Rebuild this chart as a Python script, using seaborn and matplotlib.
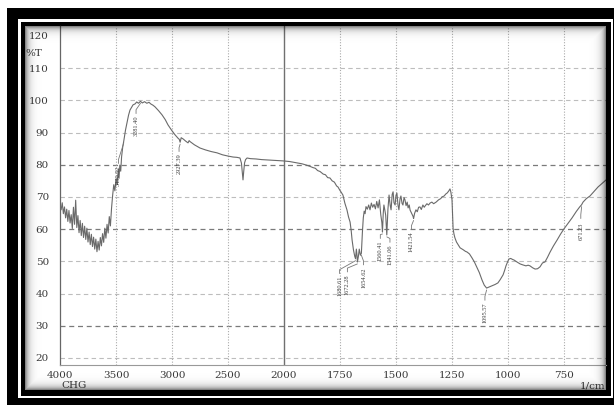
import numpy as np
import pandas as pd
import matplotlib
matplotlib.use("Agg")
import matplotlib.pyplot as plt
import seaborn as sns
from matplotlib.patches import Rectangle

# ---- spectrum (wavenumber in 1/cm, transmittance in %T) ----
wavenumber = [
    4000, 3990, 3980, 3970, 3960, 3950, 3940, 3930, 3920, 3910,
    3900, 3890, 3880, 3870, 3860, 3850, 3840, 3830, 3820, 3810,
    3800, 3790, 3780, 3770, 3760, 3750, 3740, 3730, 3720, 3710,
    3700, 3690, 3680, 3670, 3660, 3650, 3640, 3630, 3620, 3610,
    3600, 3590, 3580, 3570, 3560, 3550, 3540, 3530, 3520, 3510,
    3500, 3490, 3480, 3473, 3466, 3458, 3450, 3440, 3430.52, 3415,
    3402, 3388, 3375, 3360, 3348, 3330, 3315, 3300, 3281.40, 3265,
    3245, 3225, 3205, 3190, 3170, 3152, 3120, 3089, 3060, 3036,
    3005, 2973, 2945, 2935, 2927.39, 2918, 2900, 2880, 2857, 2847,
    2839, 2800, 2750, 2700, 2650, 2598, 2550, 2500, 2455, 2420,
    2393, 2380, 2372, 2366, 2360, 2352, 2343, 2330, 2300, 2250,
    2200, 2152, 2100, 2050, 2009, 1975, 1942, 1920, 1900, 1884,
    1870, 1860, 1850, 1839, 1825, 1815, 1805, 1795, 1785, 1775,
    1765, 1759, 1750, 1745, 1737, 1728, 1719, 1712, 1705, 1700,
    1696, 1690, 1684, 1680.61, 1677, 1674, 1672.28, 1668, 1664, 1659,
    1654.62, 1650, 1646, 1642, 1638, 1634, 1628, 1622, 1616, 1610,
    1604, 1598, 1592, 1586, 1580, 1574, 1568, 1563, 1560.41, 1557,
    1554, 1550, 1546, 1541.06, 1536, 1531, 1526, 1522, 1517, 1513,
    1509, 1504, 1500, 1496, 1491, 1487, 1482, 1478, 1473, 1469,
    1464, 1460, 1455, 1450, 1446, 1441, 1437, 1433, 1428, 1424,
    1421.54, 1417, 1411, 1405, 1399, 1393, 1387, 1380, 1374, 1370,
    1362, 1355, 1348, 1340, 1332, 1321, 1310, 1300, 1295, 1285,
    1278, 1272, 1265, 1259, 1255, 1250, 1247, 1245, 1241, 1237,
    1230, 1222, 1214, 1200, 1190, 1183, 1172, 1161, 1150, 1138,
    1128, 1116, 1106, 1095.57, 1085, 1071, 1058, 1045, 1035, 1022,
    1015, 1009, 1002, 996, 988, 980, 973, 960, 946, 934,
    920, 910, 902, 890, 879, 868, 857, 846, 835, 824,
    812, 797, 781, 765, 750, 732, 714, 695, 680, 671.23,
    665, 650, 634, 615, 598, 580, 562,
]
transmittance = [
    67.5, 66.0, 68.2, 64.8, 66.9, 63.5, 66.2, 62.4, 65.8, 61.9,
    64.5, 60.2, 66.8, 61.5, 69.0, 60.5, 64.2, 58.9, 62.7, 58.0,
    61.8, 57.4, 60.9, 56.8, 60.3, 56.0, 59.1, 55.2, 58.4, 54.6,
    57.5, 53.8, 56.9, 53.0, 56.2, 53.5, 57.4, 54.8, 58.6, 55.9,
    60.3, 57.2, 61.5, 58.8, 63.9, 61.0, 66.4, 70.5, 73.8, 71.9,
    75.6, 73.9, 78.5, 75.8, 79.9, 78.0, 82.5, 85.5, 87.4, 90.8,
    93.0, 95.4, 97.0, 97.9, 98.6, 98.9, 99.5, 99.1, 99.7, 99.2,
    99.6, 99.1, 99.4, 98.9, 98.5, 98.0, 96.8, 95.5, 94.0, 92.4,
    90.8, 89.3, 88.2, 87.9, 87.0, 88.4, 88.0, 87.4, 86.8, 87.5,
    87.2, 86.2, 85.2, 84.6, 84.1, 83.7, 83.1, 82.7, 82.4, 82.3,
    82.1, 80.5, 77.5, 75.3, 77.8, 80.6, 81.6, 82.1, 81.9, 81.8,
    81.6, 81.5, 81.4, 81.3, 81.2, 81.0, 80.6, 80.3, 79.9, 79.5,
    79.1, 78.9, 78.2, 77.9, 77.1, 76.9, 76.0, 75.9, 75.0, 74.6,
    73.4, 73.1, 72.0, 71.5, 70.6, 68.0, 66.0, 63.8, 62.2, 59.5,
    56.6, 53.6, 51.5, 50.8, 53.8, 51.8, 49.8, 51.5, 53.8, 51.9,
    52.5, 59.0, 63.5, 65.6, 64.8, 67.0, 66.2, 67.5, 66.0, 68.1,
    66.8, 67.7, 66.3, 68.6, 66.6, 69.1, 64.5, 62.0, 59.1, 64.8,
    67.5, 66.0, 64.3, 58.2, 66.2, 70.6, 67.4, 66.0, 70.8, 71.6,
    68.2, 67.5, 70.5, 71.2, 67.4, 66.0, 69.4, 70.3, 68.0, 67.5,
    69.8, 69.1, 67.3, 68.4, 66.6, 67.5, 65.9, 65.3, 64.6, 64.0,
    63.3, 64.9, 66.0, 65.4, 66.8, 66.9, 66.1, 67.5, 66.8, 67.2,
    67.9, 67.5, 68.1, 68.4, 67.9, 68.4, 69.1, 69.5, 70.0, 70.3,
    70.9, 71.2, 71.8, 72.5, 71.5, 69.1, 64.0, 60.1, 58.4, 57.3,
    56.0, 55.1, 54.2, 53.6, 53.1, 52.9, 52.3, 51.1, 49.8, 48.0,
    46.5, 44.2, 42.6, 41.7, 42.0, 42.4, 42.8, 43.3, 44.3, 45.8,
    47.2, 48.6, 49.8, 50.7, 50.9, 50.6, 50.4, 49.8, 49.2, 48.9,
    48.6, 48.8, 48.6, 48.0, 47.6, 47.7, 48.3, 49.5, 49.8, 51.2,
    52.9, 54.8, 56.6, 58.5, 60.1, 61.8, 63.5, 65.5, 66.9, 67.6,
    68.4, 69.5, 70.3, 71.8, 73.1, 74.2, 75.3,
]

# ---- peak annotations ----
peak_labels = ["3430.52", "3281.40", "2927.39", "1680.61", "1672.28",
               "1654.62", "1560.41", "1541.06", "1421.54", "1095.57", "671.23"]
peak_wn = [3430.52, 3281.40, 2927.39, 1680.61, 1672.28,
           1654.62, 1560.41, 1541.06, 1421.54, 1095.57, 671.23]
label_x = [3478, 3321, 2937, 1752, 1717, 1645, 1570, 1527, 1431, 1103, 675]
label_y = [76.5, 92.0, 80.2, 42.3, 42.8, 45.0, 53.2, 52.0, 56.0, 34.0, 59.4]

major_x = [4000, 3500, 3000, 2500, 2000, 1750, 1500, 1250, 1000, 750]
major_y = [20, 30, 40, 50, 60, 70, 80, 90, 100, 110, 120]

W, H = 614, 405
sns.set_style("white")
plt.rcParams["font.family"] = ["DejaVu Serif", "DejaVu Sans"]

fig = plt.figure(figsize=(W / 100, H / 100), dpi=100)


def box(x0, y0, x1, y1):
    return [x0 / W, 1 - y1 / H, (x1 - x0) / W, (y1 - y0) / H]


# photo-style frame drawn in pixel units
bg = fig.add_axes([0, 0, 1, 1], zorder=0)
bg.set_xlim(0, W)
bg.set_ylim(H, 0)
bg.axis("off")
bg.add_patch(Rectangle((7, 8), 640, 420, facecolor="black", edgecolor="none"))
bg.add_patch(Rectangle((18, 19), 595, 379, facecolor="white", edgecolor="none"))
bg.add_patch(Rectangle((20.5, 22), 590.5, 373.5, facecolor="black", edgecolor="none"))
bg.add_patch(Rectangle((25, 26), 581, 364, facecolor="white", edgecolor="none"))

# piecewise wavenumber scale: above 2000 1/cm is compressed by half
def fwd(x):
    x = np.asarray(x, float)
    return np.where(x > 2000, 2000 + (x - 2000) / 2, x)


def inv(u):
    u = np.asarray(u, float)
    return np.where(u > 2000, 2000 + (u - 2000) * 2, u)


ax = fig.add_axes(box(60, 26, 606, 365), zorder=1)
ax.set_facecolor("none")
ax.set_xscale("function", functions=(fwd, inv))

# grid
for v in [110, 100, 90, 70, 50, 40, 20]:
    ax.axhline(v, color="#bdbdbd", lw=0.8, ls=(0, (4, 3)), zorder=1)
for v in [80, 60, 30]:
    ax.axhline(v, color="#7a7a7a", lw=0.9, ls=(0, (4, 3)), zorder=1)
for v in [3500, 3000, 2500, 1750, 1500, 1250, 1000, 750]:
    ax.axvline(v, color="#aaaaaa", lw=0.8, ls=(0, (1, 1.5)), zorder=1)
ax.axvline(2000, color="#707070", lw=1.0, zorder=1)

df = pd.DataFrame({"wavenumber": wavenumber, "T": transmittance})
sns.lineplot(data=df, x="wavenumber", y="T", ax=ax, sort=False,
             estimator=None, color="#6a6a6a", linewidth=0.8, zorder=3)

# leader lines: from the band straight to a short stub above each label
curve = dict(zip(wavenumber, transmittance))
for lab, pw, lx, ly in zip(peak_labels, peak_wn, label_x, label_y):
    top = ly + 3.9
    py = curve[pw] - 0.6
    ax.plot([pw, lx, lx], [py, top + 1.2, top],
            color="#777777", lw=0.6, zorder=3)
    ax.text(lx, ly, lab, rotation=90, ha="center", va="center",
            fontsize=4.6, family="Liberation Serif", color="#404040", zorder=4)

ax.set_xlim(4000, 562.5)
ax.set_ylim(17.8, 123.1)
ax.set_xticks(major_x)
ax.set_xticklabels([str(v) for v in major_x])
minor_x = [v for v in range(3900, 2000, -100) if v not in major_x] + \
          [v for v in range(1950, 560, -50) if v not in major_x]
ax.set_xticks(minor_x, minor=True)
ax.set_yticks(major_y)
ax.set_yticks([v for v in range(18, 123, 2) if v % 10], minor=True)
ax.set_xlabel("")
ax.set_ylabel("")

ax.tick_params(axis="y", which="major", direction="out", length=4, width=0.8,
               color="#666666", pad=4, labelsize=7.5, labelcolor="#3a3a3a")
ax.tick_params(axis="y", which="minor", direction="out", length=2.5, width=0.7,
               color="#888888")
ax.tick_params(axis="x", which="major", direction="inout", length=4, width=0.8,
               color="#777777", pad=2, labelsize=7.5, labelcolor="#3a3a3a")
ax.tick_params(axis="x", which="minor", direction="inout", length=3, width=0.7,
               color="#999999")
for s in ["top", "right"]:
    ax.spines[s].set_visible(False)
ax.spines["left"].set_color("#666666")
ax.spines["left"].set_linewidth(0.9)
ax.spines["bottom"].set_color("#999999")
ax.spines["bottom"].set_linewidth(0.8)

txt = dict(fontsize=7.5, color="#3a3a3a", family="DejaVu Serif")
bg.text(25, 53, "%T", ha="left", va="center", **txt)
bg.text(61, 385, "CHG", ha="left", va="center", **txt)
bg.text(605, 386, "1/cm", ha="right", va="center", **txt)

# soft shadow around the inner edge of the panel
pw_, ph_ = 581, 364
xx = np.arange(pw_) + 0.5
yy = np.arange(ph_) + 0.5
d = np.minimum(np.minimum(xx[None, :], pw_ - xx[None, :]),
               np.minimum(yy[:, None], ph_ - yy[:, None]))
alpha = 0.55 * np.exp(-d / 3.5)
shade = np.zeros((ph_, pw_, 4))
shade[..., 3] = alpha
ov = fig.add_axes(box(25, 26, 606, 390), zorder=5)
ov.imshow(shade, aspect="auto", interpolation="bilinear")
ov.axis("off")

fig.savefig("out.png", dpi=100)
